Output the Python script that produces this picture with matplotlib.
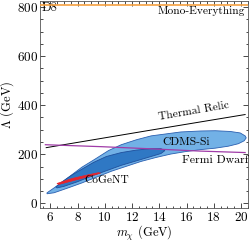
import numpy as np
import matplotlib
matplotlib.use('Agg')
import matplotlib.pyplot as plt
from matplotlib.ticker import MultipleLocator

plt.rcParams['font.family'] = ['cmr10', 'DejaVu Serif']
plt.rcParams['mathtext.fontset'] = 'cm'
plt.rcParams['axes.formatter.use_mathtext'] = True

# CDMS-Si outer region (m_chi in GeV, Lambda in GeV)
cdms_outer_m = [5.76, 6.49, 7.36, 8.31, 9.25, 10.27, 11.21, 12.31, 13.40, 14.49, 15.58, 17.04, 18.12, 19.21, 19.94, 20.30, 20.38,
                20.23, 19.80, 19.07, 18.12, 17.03, 15.94, 14.85, 13.76, 12.67, 11.58, 10.49, 9.40, 8.31, 7.21, 6.27, 5.76]
cdms_outer_L = [43, 71, 107, 147, 179, 215, 239, 259, 275, 283, 291, 295, 296, 293, 287, 275, 267,
                255, 243, 233, 225, 219, 211, 201, 187, 171, 151, 131, 107, 83, 61, 43, 39]

# CDMS-Si inner region
cdms_inner_m = [6.41, 6.85, 7.58, 8.31, 9.18, 10.12, 11.21, 12.31, 13.40, 14.12, 14.41,
                14.12, 13.40, 12.31, 11.21, 10.12, 9.03, 7.94, 6.99, 6.49]
cdms_inner_L = [67, 87, 115, 139, 167, 191, 207, 217, 223, 223, 215,
                203, 191, 173, 155, 133, 111, 87, 69, 63]

# CoGeNT region
cogent_m = [6.49, 7.58, 8.67, 9.54, 9.69, 8.67, 7.58, 6.63]
cogent_L = [81, 101, 115, 125, 123, 107, 91, 77]

# Thermal relic line
relic_m = [5.7, 13.0, 20.3]
relic_L = [227, 295, 362]

# Fermi dwarf line
fermi_m = [5.64, 9.76, 13.5, 17.0, 20.3]
fermi_L = [239, 231, 222, 213, 207]

# Mono-everything bound
mono_L = 810

fig = plt.figure(figsize=(2.49, 2.43), dpi=100)
ax = fig.add_axes([0.162, 0.142, 0.835, 0.854])

ax.fill(cdms_outer_m, cdms_outer_L, facecolor='#72b1e6', edgecolor='#2a5fb0', linewidth=0.6, zorder=1)
ax.fill(cdms_inner_m, cdms_inner_L, facecolor='#2f78c4', edgecolor='#1f4f9c', linewidth=0.6, zorder=2)
ax.fill(cogent_m, cogent_L, facecolor='#e8232a', edgecolor='#e8232a', linewidth=0.5, zorder=3)
ax.plot(relic_m, relic_L, color='black', linewidth=0.7, zorder=4)
ax.plot(fermi_m, fermi_L, color='#a03ca8', linewidth=0.9, zorder=4)
ax.axhline(mono_L, color='#f5a040', linewidth=1.2, zorder=4)

ax.text(16.5, 333, 'Thermal Relic', fontsize=8.3, rotation=9.8, ha='center', va='bottom')
ax.text(15.94, 251, 'CDMS-Si', fontsize=8.3, ha='center', va='center')
ax.text(18.1, 176, 'Fermi Dwarf', fontsize=8.5, ha='center', va='center')
ax.text(10.12, 96, 'CoGeNT', fontsize=8.2, ha='center', va='center')
ax.text(0.008, 0.998, 'D8', fontsize=9, transform=ax.transAxes, ha='left', va='top')
ax.text(0.985, 0.975, 'Mono-Everything', fontsize=8.2, transform=ax.transAxes, ha='right', va='top')

ax.set_xlim(5.27, 20.53)
ax.set_ylim(-21, 825)
ax.xaxis.set_major_locator(MultipleLocator(2))
ax.xaxis.set_minor_locator(MultipleLocator(0.5))
ax.yaxis.set_major_locator(MultipleLocator(200))
ax.yaxis.set_minor_locator(MultipleLocator(50))
ax.tick_params(which='both', direction='in', top=True, right=True, labelsize=9.5, pad=1.5)
ax.tick_params(which='major', length=3.5, width=0.5)
ax.tick_params(which='minor', length=1.8, width=0.5)
for s in ax.spines.values():
    s.set_linewidth(0.6)
    s.set_color('#555555')

ax.set_xlabel(r'$m_\chi$ (GeV)', fontsize=9, labelpad=0.5)
ax.set_ylabel(r'$\Lambda$ (GeV)', fontsize=9, labelpad=0.5)

fig.savefig('out.png', dpi=100)
